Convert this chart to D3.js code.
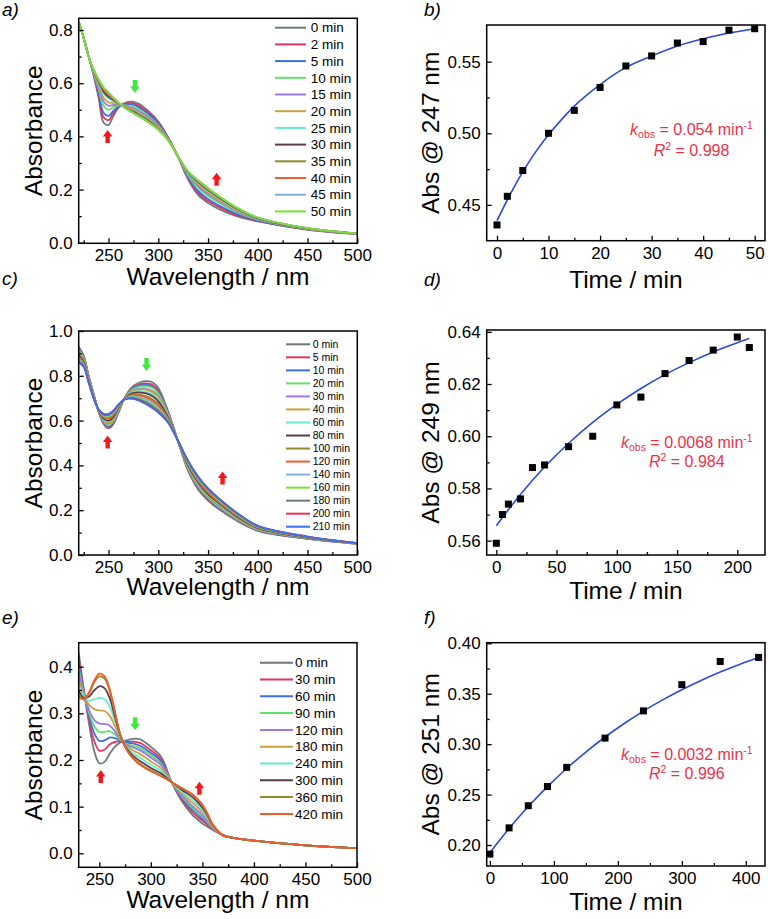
<!DOCTYPE html>
<html><head><meta charset="utf-8">
<script src="https://cdn.jsdelivr.net/npm/d3@7"></script>
<style>html,body{margin:0;padding:0;background:#fff}svg{display:block}</style>
</head><body>
<svg id="chart" width="768" height="919"></svg>
<script>
// ---------- Panel a: spectra ----------
const wlA = [220,225,230,235,240,245,250,255,260,265,270,275,280,285,290,300,310,320,330,340,350,360,380,400,450,500];
const timesA = ["0 min","2 min","5 min","10 min","15 min","20 min","25 min","30 min","35 min","40 min","45 min","50 min"];
const specA = [
 [0.830,0.770,0.700,0.630,0.545,0.452,0.443,0.478,0.508,0.523,0.530,0.530,0.523,0.511,0.496,0.456,0.396,0.322,0.238,0.180,0.150,0.128,0.098,0.080,0.049,0.033],
 [0.830,0.770,0.700,0.633,0.556,0.472,0.461,0.488,0.511,0.521,0.525,0.524,0.516,0.504,0.490,0.451,0.394,0.322,0.242,0.188,0.158,0.136,0.103,0.082,0.050,0.033],
 [0.830,0.770,0.700,0.636,0.565,0.489,0.477,0.497,0.513,0.520,0.521,0.518,0.510,0.498,0.484,0.447,0.393,0.323,0.246,0.195,0.165,0.142,0.107,0.084,0.051,0.034],
 [0.830,0.770,0.700,0.639,0.578,0.515,0.500,0.510,0.517,0.517,0.515,0.510,0.501,0.489,0.476,0.441,0.391,0.323,0.252,0.206,0.176,0.152,0.113,0.087,0.052,0.034],
 [0.830,0.770,0.700,0.642,0.586,0.531,0.515,0.518,0.519,0.516,0.511,0.505,0.495,0.484,0.471,0.438,0.390,0.323,0.256,0.213,0.183,0.158,0.117,0.089,0.053,0.034],
 [0.830,0.770,0.700,0.644,0.594,0.545,0.528,0.526,0.521,0.515,0.508,0.500,0.490,0.479,0.466,0.434,0.388,0.323,0.259,0.219,0.189,0.163,0.120,0.091,0.053,0.034],
 [0.830,0.770,0.700,0.646,0.602,0.560,0.542,0.533,0.523,0.513,0.504,0.495,0.485,0.474,0.461,0.431,0.387,0.324,0.262,0.225,0.195,0.169,0.124,0.092,0.054,0.035],
 [0.830,0.770,0.700,0.647,0.606,0.568,0.549,0.537,0.525,0.513,0.502,0.493,0.482,0.471,0.459,0.429,0.386,0.324,0.264,0.228,0.198,0.172,0.126,0.093,0.054,0.035],
 [0.830,0.770,0.700,0.649,0.610,0.576,0.557,0.541,0.526,0.512,0.500,0.490,0.479,0.468,0.456,0.427,0.386,0.324,0.266,0.231,0.201,0.175,0.128,0.094,0.055,0.035],
 [0.830,0.770,0.700,0.649,0.612,0.578,0.559,0.543,0.526,0.512,0.500,0.489,0.478,0.467,0.455,0.427,0.386,0.324,0.267,0.232,0.202,0.176,0.128,0.094,0.055,0.035],
 [0.830,0.770,0.700,0.650,0.614,0.584,0.564,0.545,0.527,0.511,0.498,0.487,0.477,0.466,0.453,0.425,0.385,0.324,0.268,0.235,0.205,0.178,0.130,0.095,0.055,0.035],
 [0.830,0.770,0.700,0.650,0.615,0.585,0.565,0.546,0.527,0.511,0.498,0.487,0.476,0.465,0.453,0.425,0.385,0.324,0.268,0.235,0.205,0.178,0.130,0.095,0.055,0.035]
];
// ---------- Panel c: spectra ----------
const wlC = [220,225,230,235,240,245,250,255,260,265,270,275,280,285,290,295,300,310,320,330,340,350,360,380,400,450,500];
const timesC = ["0 min","5 min","10 min","20 min","30 min","40 min","60 min","80 min","100 min","120 min","140 min","160 min","180 min","200 min","210 min"];
const specC = [
 [0.930,0.890,0.800,0.720,0.640,0.585,0.565,0.585,0.635,0.690,0.730,0.755,0.768,0.775,0.776,0.768,0.745,0.640,0.505,0.375,0.293,0.243,0.207,0.150,0.108,0.072,0.050],
 [0.923,0.885,0.797,0.718,0.641,0.590,0.572,0.591,0.639,0.690,0.727,0.749,0.760,0.766,0.765,0.757,0.734,0.635,0.505,0.380,0.299,0.248,0.212,0.154,0.110,0.073,0.050],
 [0.918,0.882,0.795,0.717,0.642,0.593,0.576,0.595,0.641,0.690,0.725,0.745,0.755,0.759,0.758,0.748,0.727,0.632,0.506,0.383,0.303,0.252,0.215,0.156,0.112,0.074,0.051],
 [0.915,0.879,0.793,0.716,0.642,0.595,0.579,0.598,0.643,0.690,0.723,0.742,0.751,0.754,0.752,0.743,0.721,0.629,0.506,0.385,0.306,0.255,0.218,0.158,0.113,0.074,0.051],
 [0.907,0.874,0.790,0.713,0.643,0.600,0.587,0.605,0.647,0.691,0.719,0.736,0.742,0.744,0.740,0.730,0.709,0.624,0.506,0.390,0.312,0.261,0.223,0.162,0.115,0.075,0.051],
 [0.903,0.871,0.789,0.712,0.644,0.602,0.590,0.608,0.649,0.691,0.718,0.733,0.738,0.739,0.735,0.724,0.704,0.621,0.506,0.392,0.315,0.264,0.226,0.163,0.116,0.076,0.051],
 [0.897,0.867,0.786,0.711,0.645,0.606,0.596,0.613,0.652,0.691,0.715,0.728,0.731,0.730,0.725,0.714,0.694,0.617,0.506,0.396,0.320,0.268,0.230,0.167,0.118,0.077,0.051],
 [0.892,0.863,0.784,0.709,0.645,0.609,0.600,0.617,0.655,0.691,0.713,0.724,0.726,0.724,0.718,0.706,0.686,0.613,0.507,0.399,0.324,0.272,0.234,0.169,0.120,0.077,0.052],
 [0.884,0.857,0.780,0.707,0.647,0.615,0.608,0.625,0.659,0.691,0.709,0.717,0.717,0.712,0.705,0.692,0.673,0.607,0.507,0.405,0.331,0.279,0.239,0.173,0.123,0.079,0.052],
 [0.880,0.854,0.778,0.706,0.647,0.617,0.612,0.628,0.662,0.691,0.707,0.713,0.712,0.707,0.698,0.685,0.667,0.604,0.507,0.407,0.334,0.282,0.242,0.175,0.124,0.079,0.052],
 [0.873,0.850,0.776,0.704,0.648,0.622,0.618,0.634,0.665,0.692,0.704,0.708,0.705,0.698,0.689,0.675,0.657,0.600,0.507,0.412,0.339,0.287,0.247,0.178,0.126,0.080,0.052],
 [0.868,0.846,0.774,0.702,0.649,0.625,0.622,0.638,0.668,0.692,0.702,0.704,0.699,0.691,0.681,0.667,0.649,0.596,0.508,0.415,0.343,0.291,0.250,0.181,0.127,0.081,0.053],
 [0.865,0.844,0.772,0.701,0.649,0.627,0.626,0.641,0.669,0.692,0.700,0.701,0.696,0.687,0.676,0.661,0.644,0.594,0.508,0.417,0.346,0.293,0.253,0.183,0.129,0.081,0.053],
 [0.861,0.841,0.771,0.700,0.650,0.629,0.629,0.644,0.671,0.692,0.699,0.698,0.692,0.682,0.670,0.655,0.638,0.591,0.508,0.419,0.349,0.296,0.255,0.184,0.130,0.082,0.053],
 [0.860,0.840,0.770,0.700,0.650,0.630,0.630,0.645,0.672,0.692,0.698,0.697,0.690,0.680,0.668,0.653,0.636,0.590,0.508,0.420,0.350,0.297,0.256,0.185,0.130,0.082,0.053]
];
// ---------- Panel e: spectra ----------
const wlE = [230,235,240,245,250,255,260,265,270,275,280,285,290,295,300,310,320,330,340,345,350,355,360,370,380,400,450,500];
const timesE = ["0 min","30 min","60 min","90 min","120 min","180 min","240 min","300 min","360 min","420 min"];
const specE = [
 [0.430,0.350,0.278,0.220,0.193,0.196,0.213,0.228,0.237,0.241,0.244,0.246,0.244,0.237,0.228,0.207,0.153,0.112,0.083,0.073,0.064,0.057,0.050,0.039,0.033,0.027,0.017,0.011],
 [0.417,0.347,0.287,0.241,0.220,0.222,0.233,0.239,0.240,0.239,0.239,0.239,0.236,0.229,0.221,0.201,0.153,0.116,0.089,0.079,0.070,0.061,0.052,0.039,0.033,0.027,0.017,0.011],
 [0.406,0.345,0.295,0.258,0.241,0.242,0.248,0.247,0.242,0.238,0.236,0.234,0.230,0.223,0.215,0.197,0.153,0.119,0.094,0.084,0.074,0.064,0.053,0.039,0.033,0.027,0.017,0.011],
 [0.397,0.343,0.302,0.273,0.260,0.260,0.262,0.255,0.244,0.236,0.232,0.229,0.225,0.218,0.210,0.192,0.153,0.122,0.098,0.088,0.078,0.067,0.054,0.039,0.033,0.027,0.017,0.011],
 [0.388,0.341,0.308,0.286,0.278,0.277,0.274,0.262,0.246,0.235,0.229,0.225,0.220,0.213,0.205,0.189,0.153,0.124,0.102,0.092,0.082,0.069,0.055,0.039,0.033,0.027,0.017,0.011],
 [0.374,0.338,0.318,0.309,0.306,0.305,0.295,0.273,0.249,0.233,0.224,0.218,0.212,0.205,0.197,0.182,0.153,0.129,0.109,0.099,0.088,0.074,0.057,0.038,0.033,0.027,0.017,0.011],
 [0.361,0.335,0.327,0.330,0.333,0.330,0.315,0.284,0.252,0.232,0.219,0.211,0.204,0.197,0.190,0.176,0.153,0.132,0.115,0.105,0.093,0.077,0.059,0.038,0.033,0.027,0.017,0.011],
 [0.348,0.333,0.336,0.349,0.358,0.354,0.333,0.294,0.255,0.230,0.215,0.205,0.197,0.190,0.183,0.171,0.153,0.136,0.121,0.111,0.098,0.081,0.060,0.038,0.033,0.027,0.017,0.011],
 [0.338,0.331,0.343,0.366,0.379,0.375,0.348,0.303,0.257,0.228,0.211,0.199,0.191,0.184,0.178,0.166,0.153,0.139,0.126,0.116,0.103,0.084,0.062,0.038,0.033,0.027,0.017,0.011],
 [0.335,0.330,0.345,0.370,0.385,0.380,0.352,0.305,0.258,0.228,0.210,0.198,0.189,0.182,0.176,0.165,0.153,0.140,0.127,0.117,0.104,0.085,0.062,0.038,0.033,0.027,0.017,0.011]
];
// ---------- Kinetics ----------
const tB = [0,2,5,10,15,20,25,30,35,40,45,50];
const absB = [0.436,0.456,0.474,0.500,0.516,0.532,0.547,0.554,0.563,0.564,0.572,0.573];
const fitTB = [0,2.5,5,7.5,10,15,20,25,30,35,40,45,50];
const fitB = [0.439,0.457,0.473,0.487,0.499,0.519,0.534,0.546,0.554,0.561,0.566,0.570,0.573];
const tD = [0,5,10,20,30,40,60,80,100,120,140,160,180,200,210];
const absD = [0.559,0.570,0.574,0.576,0.588,0.589,0.596,0.600,0.612,0.615,0.624,0.629,0.633,0.638,0.634];
const fitTD = [0,20,40,60,80,100,120,140,160,180,200,210];
const fitD = [0.5657,0.5777,0.5882,0.5973,0.6053,0.6122,0.6183,0.6236,0.6282,0.6323,0.6358,0.6374];
const tF = [0,30,60,90,120,180,240,300,360,420];
const absF = [0.191,0.217,0.239,0.258,0.277,0.306,0.333,0.359,0.382,0.386];
const fitTF = [0,30,60,90,120,150,180,210,240,270,300,330,360,390,420];
const fitF = [0.1924,0.2164,0.2382,0.2579,0.2759,0.2922,0.3071,0.3205,0.3328,0.3439,0.3540,0.3632,0.3715,0.3791,0.3860];
// annotations: [wavelength, absorbance at arrow tip]
const upArrowsA = [[249.1,0.424],[358.6,0.263]];
const downArrowsA = [[276.5,0.563]];
const upArrowsC = [[249.1,0.533],[364.6,0.373]];
const downArrowsC = [[288.2,0.821]];
const upArrowsE = [[251.4,0.1786],[347.1,0.1535]];
const downArrowsE = [[284.7,0.264]];
const kTexts = ["0.054","0.0068","0.0032"];
const r2Texts = ["0.998","0.984","0.996"];

// ---------- drawing ----------
const svg = d3.select("#chart");
const FONT = "'Liberation Sans', Arial, Helvetica, sans-serif";
const palette = ["#6b797c","#e6335f","#3b6fe3","#62e06a","#9c78ec","#c9a13e","#66ead0","#5b3b4a","#8d8b2b","#f25c2a","#7db1e2","#74e331"];
const RED = "#e8334a";

function panel(o){
  const g = svg.append("g");
  const x = d3.scaleLinear().domain(o.xd).range([o.left,o.right]);
  const y = d3.scaleLinear().domain(o.yd).range([o.bottom,o.top]);
  svg.append("clipPath").attr("id","clip"+o.id).append("rect")
    .attr("x",o.left).attr("y",o.top).attr("width",o.right-o.left).attr("height",o.bottom-o.top);
  const plot = g.append("g").attr("clip-path",`url(#clip${o.id})`);
  const style = s=>{
    s.select(".domain").remove();
    s.selectAll("text").attr("font-size",17).attr("font-family",FONT).attr("fill","#000");
    s.selectAll("line").attr("stroke","#000").attr("stroke-width",1.3);
  };
  g.append("g").attr("transform",`translate(0,${o.bottom})`)
    .call(d3.axisBottom(x).tickValues(o.xt).tickSize(-5).tickPadding(6).tickFormat(o.xf)).call(style);
  g.append("g").attr("transform",`translate(0,${o.bottom})`)
    .call(d3.axisBottom(x).tickValues(o.xm).tickSize(-3).tickFormat("")).call(style);
  g.append("g").attr("transform",`translate(${o.left},0)`)
    .call(d3.axisLeft(y).tickValues(o.yt).tickSize(-5).tickPadding(6).tickFormat(o.yf)).call(style);
  g.append("g").attr("transform",`translate(${o.left},0)`)
    .call(d3.axisLeft(y).tickValues(o.ym).tickSize(-3).tickFormat("")).call(style);
  // titles
  g.append("text").attr("x",(o.left+o.right)/2).attr("y",o.xtY).attr("text-anchor","middle")
    .attr("font-size",24.5).attr("font-family",FONT).text(o.xtitle);
  g.append("text").attr("transform",`translate(${o.ytX},${(o.top+o.bottom)/2}) rotate(-90)`).attr("text-anchor","middle")
    .attr("font-size",24.5).attr("font-family",FONT).text(o.ytitle);
  g.append("text").attr("x",o.lx).attr("y",o.ly).attr("font-size",19).attr("font-style","italic")
    .attr("font-family",FONT).text(o.letter);
  return {g,plot,x,y,o};
}
function frame(p){
  const o=p.o;
  p.g.append("rect").attr("x",o.left).attr("y",o.top).attr("width",o.right-o.left).attr("height",o.bottom-o.top)
    .attr("fill","none").attr("stroke","#000").attr("stroke-width",1.5);
}
function spectra(p, wl, spec, labels, leg){
  const line = d3.line().x((d,i)=>p.x(wl[i])).y(d=>p.y(d)).curve(d3.curveCatmullRom.alpha(0.5));
  spec.forEach((s,i)=>{
    p.plot.append("path").attr("d",line(s)).attr("fill","none")
      .attr("stroke",palette[i%palette.length]).attr("stroke-width",1.8).attr("stroke-linejoin","round");
  });
  labels.forEach((lab,i)=>{
    const yy = leg.y0 + i*leg.dy;
    p.g.append("line").attr("x1",leg.x1).attr("x2",leg.x2).attr("y1",yy).attr("y2",yy)
      .attr("stroke",palette[i%palette.length]).attr("stroke-width",2);
    p.g.append("text").attr("x",leg.tx).attr("y",yy).attr("dy","0.35em").attr("font-size",leg.fs)
      .attr("font-family",FONT).text(lab);
  });
}
function arrows(p, ups, downs){
  ups.forEach(([w,a])=>{
    const cx=p.x(w), t=p.y(a);
    p.g.append("path").attr("fill","#f0191e")
      .attr("d",`M${cx},${t} L${cx+4.8},${t+6.5} L${cx+2.2},${t+6.5} L${cx+2.2},${t+13} L${cx-2.2},${t+13} L${cx-2.2},${t+6.5} L${cx-4.8},${t+6.5} Z`);
  });
  downs.forEach(([w,a])=>{
    const cx=p.x(w), t=p.y(a);
    p.g.append("path").attr("fill","#3ee83e")
      .attr("d",`M${cx},${t} L${cx+4.8},${t-6.5} L${cx+2.2},${t-6.5} L${cx+2.2},${t-13} L${cx-2.2},${t-13} L${cx-2.2},${t-6.5} L${cx-4.8},${t-6.5} Z`);
  });
}
function kinetics(p, t, a, ft, fa, k, r2, cx, y1, y2){
  const line = d3.line().x((d,i)=>p.x(ft[i])).y(d=>p.y(d)).curve(d3.curveCatmullRom.alpha(0.5));
  p.plot.append("path").attr("d",line(fa)).attr("fill","none").attr("stroke","#2c48d6").attr("stroke-width",1.6);
  p.plot.selectAll("rect.pt").data(a).enter().append("rect").attr("class","pt")
    .attr("x",(d,i)=>p.x(t[i])-3.5).attr("y",d=>p.y(d)-3.5).attr("width",7).attr("height",7).attr("fill","#000");
  const t1 = p.g.append("text").attr("x",cx).attr("y",y1).attr("text-anchor","middle").attr("font-size",16)
    .attr("font-family",FONT).attr("fill",RED);
  t1.append("tspan").attr("font-style","italic").text("k");
  t1.append("tspan").attr("font-size",10.5).attr("dy",3).text("obs");
  t1.append("tspan").attr("dy",-3).text(" = "+k+" min");
  t1.append("tspan").attr("font-size",10.5).attr("dy",-6).text("-1");
  const t2 = p.g.append("text").attr("x",cx).attr("y",y2).attr("text-anchor","middle").attr("font-size",16)
    .attr("font-family",FONT).attr("fill",RED);
  t2.append("tspan").attr("font-style","italic").text("R");
  t2.append("tspan").attr("font-size",10.5).attr("dy",-6).text("2");
  t2.append("tspan").attr("dy",6).text(" = "+r2);
}
const f1 = d3.format(".1f"), f2 = d3.format(".2f"), f0 = d3.format("d");
const range = (a,b,s)=>d3.range(a,b+s/2,s);

// Panel a
const pa = panel({id:"a",xd:[220,500],yd:[-0.002,0.844],left:78.7,right:357.3,top:18.3,bottom:243.3,
  xt:range(250,500,50),xm:range(225,475,50),yt:range(0,0.8,0.2),ym:range(0.1,0.7,0.2),xf:f0,yf:f1,
  xtitle:"Wavelength / nm",ytitle:"Absorbance",xtY:285,ytX:42,letter:"a)",lx:2,ly:16});
spectra(pa,wlA,specA,timesA,{x1:275,x2:306,tx:310.7,y0:27.7,dy:16.7,fs:13.5});
arrows(pa,upArrowsA,downArrowsA); frame(pa);
// Panel b
const pb = panel({id:"b",xd:[-2,52],yd:[0.425,0.5756],left:486.7,right:765,top:25,bottom:240.7,
  xt:range(0,50,10),xm:range(5,45,10),yt:[0.45,0.50,0.55],ym:[0.475,0.525],xf:f0,yf:f2,
  xtitle:"Time / min",ytitle:"Abs @ 247 nm",xtY:288,ytX:439,letter:"b)",lx:424,ly:16});
kinetics(pb,tB,absB,fitTB,fitB,kTexts[0],r2Texts[0],691.5,135,156); frame(pb);
// Panel c
const pc = panel({id:"c",xd:[220,500],yd:[0,1],left:78.7,right:357.3,top:331,bottom:555,
  xt:range(250,500,50),xm:range(225,475,50),yt:range(0,1,0.2),ym:range(0.1,0.9,0.2),xf:f0,yf:f1,
  xtitle:"Wavelength / nm",ytitle:"Absorbance",xtY:595,ytX:42,letter:"c)",lx:2,ly:285});
spectra(pc,wlC,specC,timesC,{x1:286,x2:310,tx:312.7,y0:344.3,dy:13.03,fs:10.5});
arrows(pc,upArrowsC,downArrowsC); frame(pc);
// Panel d
const pd = panel({id:"d",xd:[-8,223],yd:[0.5545,0.6407],left:486.7,right:765,top:330,bottom:555,
  xt:range(0,200,50),xm:range(25,175,50),yt:range(0.56,0.64,0.02),ym:range(0.57,0.63,0.02),xf:f0,yf:f2,
  xtitle:"Time / min",ytitle:"Abs @ 249 nm",xtY:599,ytX:439,letter:"d)",lx:424,ly:286});
kinetics(pd,tD,absD,fitTD,fitD,kTexts[1],r2Texts[1],686.8,448,467); frame(pd);
// Panel e
const pe = panel({id:"e",xd:[230,500],yd:[-0.03,0.4514],left:78.7,right:357,top:642.7,bottom:867.3,
  xt:range(250,500,50),xm:range(275,475,50),yt:range(0,0.4,0.1),ym:range(0.05,0.35,0.1),xf:f0,yf:f1,
  xtitle:"Wavelength / nm",ytitle:"Absorbance",xtY:908,ytX:42,letter:"e)",lx:2,ly:624});
spectra(pe,wlE,specE,timesE,{x1:260,x2:293,tx:295,y0:662.7,dy:16.8,fs:13.5});
arrows(pe,upArrowsE,downArrowsE); frame(pe);
// Panel f
const pf = panel({id:"f",xd:[-5,430],yd:[0.1792,0.4006],left:486.7,right:765,top:642.7,bottom:866,
  xt:range(0,400,100),xm:range(50,350,100),yt:range(0.20,0.40,0.05),ym:range(0.225,0.375,0.05),xf:f0,yf:f2,
  xtitle:"Time / min",ytitle:"Abs @ 251 nm",xtY:910,ytX:439,letter:"f)",lx:424,ly:624});
kinetics(pf,tF,absF,fitTF,fitF,kTexts[2],r2Texts[2],686.8,760,779); frame(pf);
</script>
</body></html>
